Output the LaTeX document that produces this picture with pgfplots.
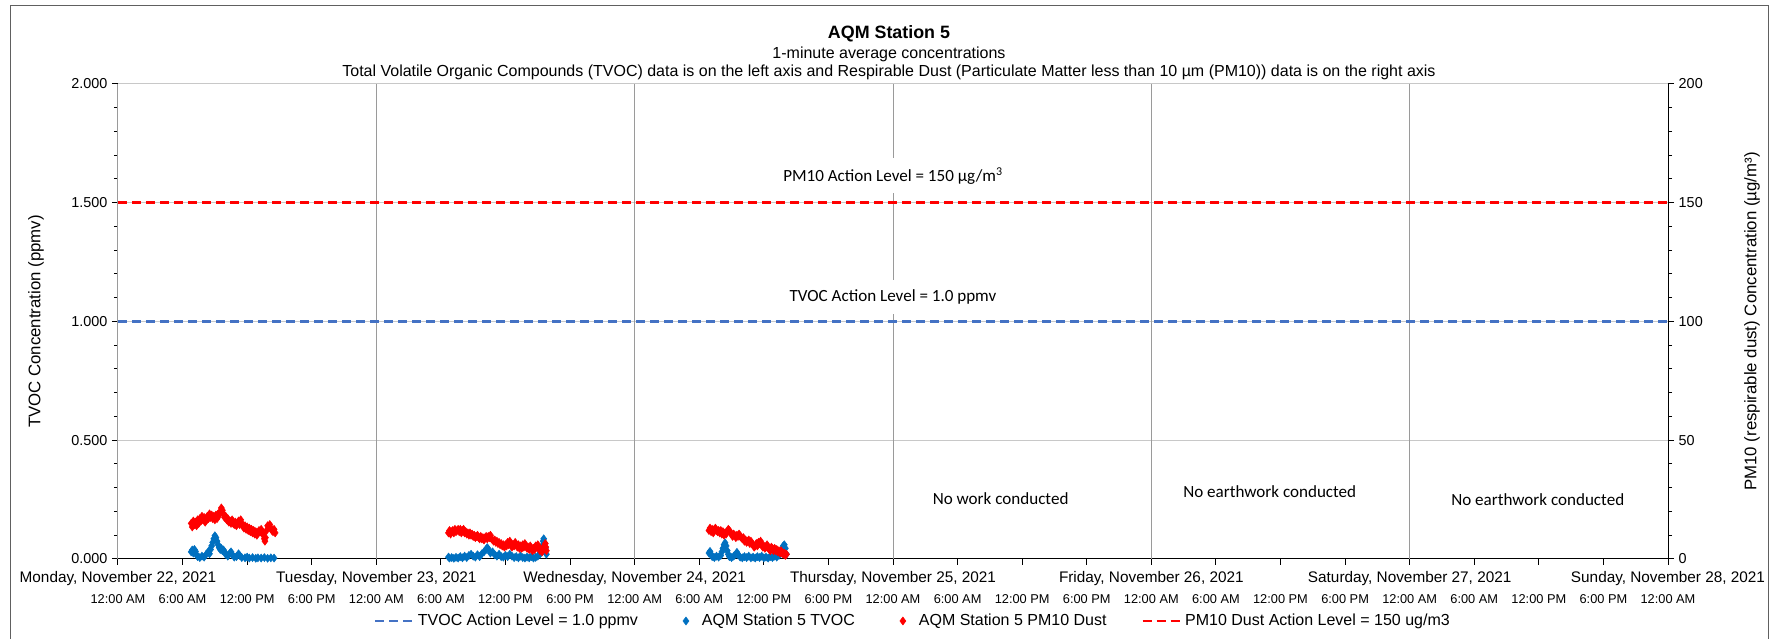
\documentclass[border=0pt]{standalone}
\usepackage{pgfplots}
\pgfplotsset{compat=1.18}
\usepackage{pgfplotstable}
\usepackage{fontspec}
\setmainfont{Liberation Sans}
\newfontfamily\calfont{Carlito}
\definecolor{tvocblue}{HTML}{0070C0}
\definecolor{linblue}{HTML}{4472C4}
\definecolor{gridgray}{HTML}{C8C8C8}
\definecolor{vgray}{HTML}{9A9A9A}

% TVOC (ppmv), x = hours since Monday 22 Nov 2021 00:00
\pgfplotstableread{
h v
6.8 0.030
6.9 0.038
7.0 0.025
7.1 0.040
7.2 0.032
7.3 0.018
7.4 0.010
7.6 0.006
7.8 0.012
8.0 0.008
8.2 0.020
8.4 0.032
8.5 0.022
8.6 0.040
8.7 0.055
8.8 0.070
8.9 0.085
9.0 0.098
9.1 0.090
9.2 0.075
9.3 0.060
9.4 0.048
9.5 0.040
9.6 0.045
9.7 0.035
9.8 0.038
9.9 0.030
10.0 0.020
10.2 0.012
10.4 0.025
10.5 0.030
10.6 0.018
10.8 0.008
11.0 0.010
11.2 0.022
11.3 0.015
11.5 0.006
11.8 0.005
12.0 0.008
12.2 0.004
12.5 0.006
12.8 0.003
13.0 0.005
13.3 0.004
13.6 0.006
13.9 0.003
14.2 0.005
14.5 0.004
30.7 0.008
30.8 0.004
31.0 0.006
31.2 0.003
31.4 0.007
31.6 0.004
31.8 0.010
32.0 0.005
32.2 0.012
32.4 0.006
32.6 0.015
32.8 0.020
33.0 0.012
33.2 0.008
33.4 0.018
33.6 0.010
33.8 0.022
34.0 0.030
34.2 0.040
34.3 0.048
34.4 0.042
34.6 0.025
34.8 0.030
35.0 0.018
35.2 0.012
35.4 0.020
35.6 0.010
35.8 0.008
36.0 0.015
36.2 0.010
36.4 0.020
36.6 0.012
36.8 0.006
37.0 0.010
37.2 0.005
37.4 0.012
37.6 0.006
37.8 0.004
38.0 0.008
38.2 0.005
38.4 0.010
38.6 0.004
38.8 0.007
39.0 0.012
39.2 0.020
39.3 0.035
39.4 0.055
39.5 0.075
39.55 0.085
39.6 0.070
39.7 0.045
39.8 0.020
54.9 0.025
55.0 0.032
55.1 0.020
55.2 0.010
55.4 0.006
55.6 0.012
55.8 0.008
56.0 0.015
56.1 0.030
56.2 0.045
56.3 0.060
56.4 0.068
56.5 0.055
56.6 0.035
56.7 0.020
56.8 0.010
57.0 0.006
57.2 0.012
57.4 0.020
57.5 0.028
57.6 0.018
57.8 0.008
58.0 0.005
58.2 0.010
58.4 0.006
58.6 0.012
58.8 0.005
59.0 0.008
59.2 0.004
59.4 0.010
59.6 0.006
59.8 0.012
60.0 0.005
60.2 0.008
60.4 0.004
60.6 0.010
60.8 0.006
61.0 0.012
61.2 0.008
61.4 0.015
61.6 0.025
61.7 0.040
61.8 0.055
61.9 0.060
62.0 0.045
62.1 0.020
}\tvoc

% PM10 (ug/m3)
\pgfplotstableread{
h v
6.8 15.0
6.9 13.5
7.0 16.0
7.1 14.5
7.2 15.5
7.3 14.0
7.4 16.5
7.5 15.0
7.6 17.0
7.7 16.0
7.8 18.0
7.9 16.5
8.0 17.5
8.1 15.5
8.2 16.5
8.3 18.0
8.4 17.0
8.5 19.0
8.6 17.5
8.7 18.5
8.8 17.0
8.9 18.0
9.0 16.5
9.1 18.5
9.2 17.0
9.3 19.0
9.4 18.5
9.5 20.0
9.6 21.5
9.7 20.5
9.8 19.0
9.9 17.5
10.0 18.0
10.1 16.5
10.2 17.0
10.3 15.5
10.4 16.0
10.5 15.0
10.6 16.5
10.7 15.0
10.8 14.5
10.9 15.5
11.0 14.0
11.1 15.0
11.2 16.0
11.3 14.5
11.4 16.5
11.5 15.0
11.6 14.0
11.7 13.0
11.8 14.0
11.9 12.5
12.0 13.5
12.1 12.0
12.2 13.0
12.3 11.5
12.4 12.5
12.5 11.0
12.6 12.0
12.7 10.5
12.8 11.5
12.9 10.0
13.0 11.0
13.1 12.0
13.2 11.5
13.3 12.5
13.4 11.0
13.5 10.0
13.6 8.5
13.65 7.5
13.7 9.0
13.8 12.0
13.9 14.0
14.0 13.5
14.1 14.5
14.2 13.0
14.3 12.0
14.4 11.5
14.5 12.5
14.6 11.0
30.7 11.0
30.8 12.0
30.9 10.5
31.0 11.5
31.1 12.0
31.2 11.0
31.3 12.5
31.4 11.5
31.5 12.0
31.6 12.5
31.7 11.5
31.8 12.5
31.9 11.0
32.0 12.0
32.1 12.5
32.2 11.0
32.3 11.5
32.4 10.5
32.5 11.0
32.6 10.0
32.7 11.0
32.8 10.0
32.9 10.5
33.0 9.5
33.1 10.0
33.2 9.0
33.3 9.5
33.4 10.0
33.5 9.0
33.6 8.5
33.7 9.5
33.8 8.5
33.9 9.0
34.0 8.0
34.1 9.0
34.2 9.5
34.3 8.5
34.4 9.5
34.5 9.0
34.6 10.0
34.7 8.5
34.8 8.0
34.9 7.5
35.0 8.0
35.1 7.0
35.2 7.5
35.3 6.5
35.4 7.0
35.5 6.0
35.6 6.5
35.7 5.5
35.8 6.0
35.9 5.0
36.0 6.0
36.1 5.5
36.2 7.0
36.3 6.0
36.4 7.5
36.5 6.5
36.6 5.0
36.7 6.0
36.8 5.5
36.9 7.0
37.0 6.0
37.1 5.0
37.2 6.0
37.3 4.5
37.4 5.5
37.5 4.5
37.6 6.0
37.7 5.0
37.8 6.5
37.9 5.5
38.0 4.5
38.1 5.0
38.2 4.0
38.3 5.5
38.4 4.5
38.5 3.5
38.6 4.5
38.7 4.0
38.8 5.5
38.9 5.0
39.0 6.0
39.1 4.5
39.2 3.5
39.3 4.0
39.4 3.0
39.5 4.5
39.6 5.5
39.7 6.5
39.75 5.0
39.8 3.5
54.9 12.0
55.0 13.0
55.1 11.5
55.2 12.5
55.3 11.0
55.4 12.5
55.5 13.0
55.6 12.0
55.7 11.5
55.8 12.0
55.9 11.0
56.0 12.0
56.1 10.5
56.2 11.5
56.3 10.0
56.4 11.0
56.5 10.5
56.6 11.5
56.7 12.5
56.8 12.0
56.9 11.0
57.0 10.5
57.1 9.5
57.2 10.5
57.3 10.0
57.4 9.0
57.5 10.0
57.6 9.5
57.7 10.5
57.8 9.5
57.9 9.0
58.0 8.5
58.1 9.0
58.2 7.5
58.3 8.0
58.4 7.0
58.5 7.5
58.6 8.0
58.7 6.5
58.8 7.5
58.9 6.5
59.0 6.0
59.1 5.0
59.2 5.5
59.3 6.5
59.4 5.5
59.5 7.0
59.6 6.5
59.7 7.5
59.8 6.0
59.9 5.0
60.0 5.5
60.1 4.5
60.2 5.0
60.3 6.0
60.4 5.0
60.5 4.0
60.6 3.5
60.7 5.0
60.8 4.5
60.9 3.5
61.0 4.5
61.1 3.5
61.2 4.0
61.3 3.0
61.4 3.5
61.5 2.5
61.6 3.5
61.7 2.5
61.8 2.0
61.9 2.5
62.0 1.5
62.1 2.0
}\pmten

\pgfplotsset{
  commonaxis/.style={
    at={(88.5pt,60pt)}, anchor=origin,
    width=1162.5pt, height=356.25pt, scale only axis,
    xmin=0, xmax=144,
    tick align=outside,
    major tick length=4.5pt, minor tick length=3pt,
    tick style={black, line width=0.75pt},
    axis line style={black, line width=0.75pt},
    minor y tick num=4,
    /pgf/number format/assume math mode=true,
    yticklabel style={font=\fontsize{10.8}{13}\selectfont},
    ylabel style={font=\fontsize{12.6}{15}\selectfont, anchor=center},
  },
  dashlegend/.style={legend image code/.code={\draw[##1] (0pt,0pt) -- (29pt,0pt);}},
  diamlegend/.style={legend image code/.code={\path[draw=none, fill=none] (0pt,0pt) -- (20pt,0pt); \draw[##1, only marks] plot coordinates {(10pt,0pt)};}},
}

\begin{document}
\begin{tikzpicture}[x=0.75pt,y=0.75pt]
\begin{axis}[commonaxis,
  ymin=0, ymax=2,
  axis x line*=bottom, axis y line*=left,
  xtick={0,6,...,144},
  xticklabels={12:00 AM,6:00 AM,12:00 PM,6:00 PM,12:00 AM,6:00 AM,12:00 PM,6:00 PM,12:00 AM,6:00 AM,12:00 PM,6:00 PM,12:00 AM,6:00 AM,12:00 PM,6:00 PM,12:00 AM,6:00 AM,12:00 PM,6:00 PM,12:00 AM,6:00 AM,12:00 PM,6:00 PM,12:00 AM},
  xticklabel style={font=\fontsize{9.6}{11}\selectfont, anchor=center, yshift=-25.2pt},
  extra x ticks={0,24,48,72,96,120,144},
  extra x tick labels={{Monday, November 22, 2021},{Tuesday, November 23, 2021},{Wednesday, November 24, 2021},{Thursday, November 25, 2021},{Friday, November 26, 2021},{Saturday, November 27, 2021},{Sunday, November 28, 2021}},
  extra x tick style={grid=major, major grid style={vgray, line width=0.75pt}, major tick length=0pt,
     xticklabel style={font=\fontsize{11.5}{13}\selectfont, yshift=10.2pt}},
  ytick={0,0.5,1,1.5,2},
  yticklabel={\pgfmathprintnumber[fixed,fixed zerofill,precision=3]{\tick}},
  ymajorgrids,
  major grid style={gridgray, line width=0.75pt},
  ylabel={TVOC Concentration (ppmv)},
  ylabel style={at={(axis description cs:-0.0529,0.5)}},
]
\addplot[linblue, line width=2pt, dash pattern=on 6.75pt off 3.75pt] coordinates {(0,1) (144,1)};
\addplot[only marks, mark=diamond*, mark size=3pt, tvocblue, mark options={draw=tvocblue, fill=tvocblue}] table[x=h, y=v] {\tvoc};
\node[fill=white, inner xsep=3pt, inner ysep=7pt, font=\calfont\fontsize{12.8}{15}\selectfont] at (axis cs:72,1.613) {PM10 Action Level = 150 µg/m\textsuperscript{3}};
\node[fill=white, inner xsep=3pt, inner ysep=7pt, font=\calfont\fontsize{12.8}{15}\selectfont] at (axis cs:72,1.103) {TVOC Action Level = 1.0 ppmv};
\node[font=\calfont\fontsize{12.8}{15}\selectfont] at (axis cs:82.0,0.253) {No work conducted};
\node[font=\calfont\fontsize{12.8}{15}\selectfont] at (axis cs:107.0,0.282) {No earthwork conducted};
\node[font=\calfont\fontsize{12.8}{15}\selectfont] at (axis cs:131.9,0.248) {No earthwork conducted};
\end{axis}

\begin{axis}[commonaxis,
  ymin=0, ymax=200,
  axis y line*=right, axis x line=none,
  ytick={0,50,100,150,200},
  ylabel={PM10 (respirable dust) Concentration (µg/m³)},
  ylabel style={at={(axis description cs:1.0542,0.5)}},
  legend style={at={(axis description cs:0.513,-0.1305)}, anchor=center, draw=none, fill=none,
    legend columns=4, font=\fontsize{12}{14}\selectfont,
    /tikz/every even column/.append style={column sep=24pt}},
  legend cell align=left,
]
\addlegendimage{linblue, line width=2pt, dash pattern=on 6.75pt off 3.75pt, dashlegend}
\addlegendentry{TVOC Action Level = 1.0 ppmv}
\addlegendimage{only marks, mark=diamond*, mark size=3pt, tvocblue, mark options={draw=tvocblue, fill=tvocblue}, diamlegend}
\addlegendentry{AQM Station 5 TVOC}
\addplot[only marks, mark=diamond*, mark size=3pt, red, mark options={draw=red, fill=red}, diamlegend] table[x=h, y=v] {\pmten};
\addlegendentry{AQM Station 5 PM10 Dust}
\addplot[red, line width=2pt, dash pattern=on 6.75pt off 3.75pt, dashlegend] coordinates {(0,150) (144,150)};
\addlegendentry{PM10 Dust Action Level = 150 ug/m3}
\end{axis}

\draw[gray!75!black, line width=0.75pt] (10,-5) -- (10,633) -- (1768,633) -- (1768,-5);
\node[font=\fontsize{13.4}{16}\selectfont\bfseries] at (889,605) {AQM Station 5};
\node[font=\fontsize{12}{14}\selectfont] at (889,585) {1-minute average concentrations};
\node[font=\fontsize{12}{14}\selectfont] at (889,567) {Total Volatile Organic Compounds (TVOC) data is on the left axis and Respirable Dust (Particulate Matter less than 10 µm (PM10)) data is on the right axis};

\pgfresetboundingbox
\path[use as bounding box] (0,0) rectangle (1778,639);
\end{tikzpicture}
\end{document}
